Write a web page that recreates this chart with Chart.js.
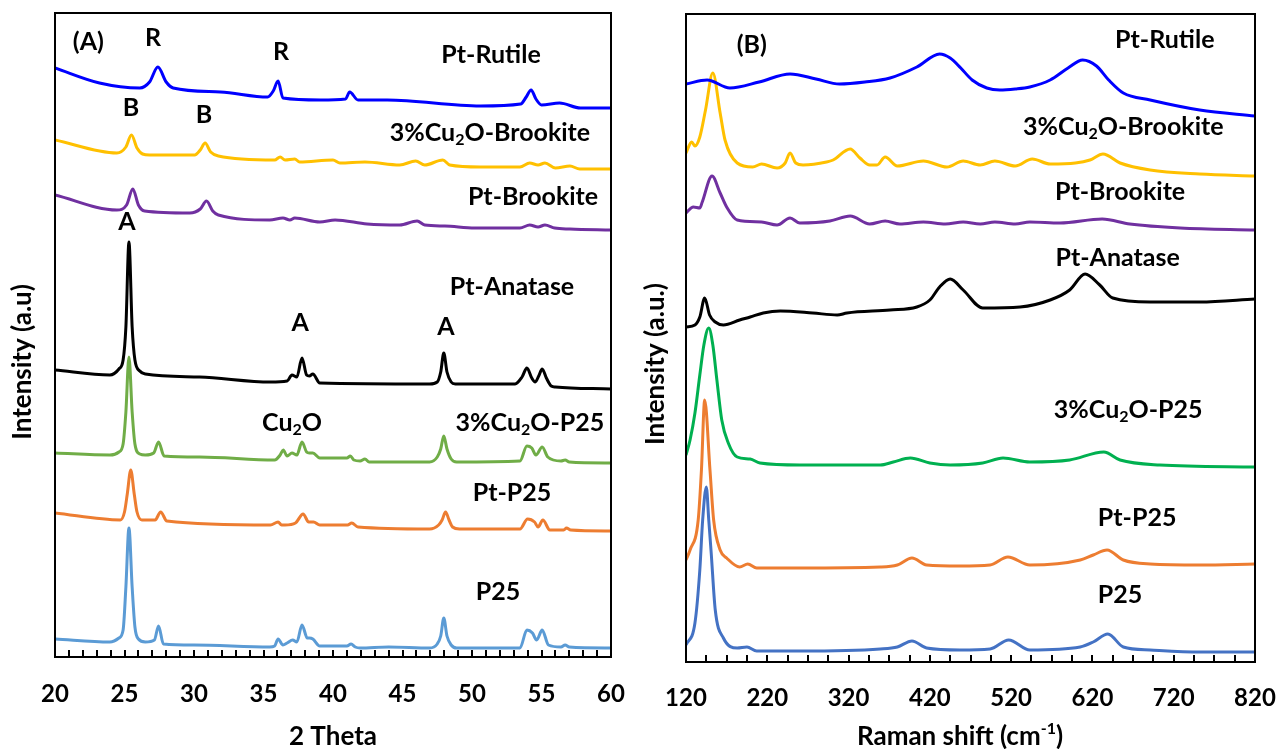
<!DOCTYPE html>
<html>
<head>
<meta charset="utf-8">
<script src="https://cdn.jsdelivr.net/npm/chart.js@4.4.1/dist/chart.umd.min.js"></script>
<style>
  html, body { margin: 0; padding: 0; background: #fff; }
  #wrap { position: relative; width: 1279px; height: 749px; }
  #chartA { position: absolute; left: 0; top: 0; }
  #chartB { position: absolute; left: 640px; top: 0; }
</style>
</head>
<body>
<div id="wrap">
  <canvas id="chartA" width="640" height="749"></canvas>
  <canvas id="chartB" width="639" height="749"></canvas>
</div>
<script>
'use strict';

// ── (A) XRD patterns: 2θ (deg) vs intensity (a.u., stacked) ──────────────────
const rutileT = [20, 23.2, 26.1, 26.8, 27.4, 28.0, 28.5, 31.9, 35.3, 35.7, 36.05, 36.4, 39.1, 40.9, 41.2, 41.8, 43.9, 50.6, 53.5, 53.9, 54.25, 54.6, 55.0, 56.3, 57.8, 60];
const rutileI = [584, 569, 564, 570, 585, 570, 564, 560, 555, 561, 571, 554, 552, 553, 560, 552, 552, 546, 548, 555, 562, 553, 547, 549, 544, 544];

const cuBrookT = [20, 24.45, 25.1, 25.5, 25.9, 26.3, 26.8, 30.05, 30.45, 30.8, 31.2, 31.75, 35.8, 36.2, 36.55, 37.25, 37.6, 40.0, 40.5, 42.3, 44.8, 45.95, 46.6, 47.9, 48.4, 50.6, 53.45, 54.15, 54.75, 55.25, 56.0, 57.05, 57.75, 60];
const cuBrookI = [512, 499, 505, 517, 504, 498, 497, 497, 502, 509, 500, 496, 492, 495, 492, 493, 490, 492, 489, 490, 487, 491, 487, 492, 487, 485, 485, 489, 487, 489, 484, 486, 483, 483];

const ptBrookT = [20, 24.45, 25.15, 25.6, 26.0, 26.45, 29.7, 30.45, 30.9, 31.35, 31.75, 35.45, 36.4, 36.9, 37.25, 39.05, 40.15, 42.45, 44.8, 46.05, 46.6, 48.05, 50.2, 53.45, 54.15, 54.75, 55.25, 55.95, 57.05, 60];
const ptBrookI = [457, 442, 447, 463, 447, 441, 439, 443, 451, 441, 437, 432, 434, 432, 434, 430, 432, 428, 427, 431, 427, 426, 424, 424, 427, 425, 427, 424, 423, 422];

const anataseT = [20, 23.95, 24.6, 24.9, 25.1, 25.32, 25.55, 25.75, 26.1, 26.5, 30.4, 35.5, 36.7, 37.05, 37.4, 37.77, 38.1, 38.3, 38.55, 39.05, 46.95, 47.5, 47.75, 47.97, 48.2, 48.5, 48.8, 53.1, 53.6, 53.95, 54.3, 54.55, 54.8, 55.05, 55.35, 55.7, 56.0, 60];
const anataseI = [282, 277, 283, 292, 325, 410, 325, 292, 281, 278, 275, 270, 271, 277, 275, 294, 277, 276, 278, 269, 268, 270, 280, 299, 280, 270, 268, 268, 275, 284, 274, 270, 276, 283, 274, 266, 265, 263];

const cuP25T = [20, 23.95, 24.6, 24.9, 25.1, 25.32, 25.55, 25.75, 26.1, 26.5, 27.1, 27.45, 27.85, 30.4, 35.8, 36.2, 36.42, 36.7, 37.05, 37.4, 37.77, 38.1, 38.3, 38.55, 39.05, 41.0, 41.25, 41.5, 41.95, 42.3, 42.6, 43.4, 46.95, 47.5, 47.75, 47.97, 48.2, 48.5, 48.9, 53.45, 53.95, 54.3, 54.6, 55.05, 55.45, 56.4, 56.7, 57.0, 60];
const cuP25I = [199, 197, 200, 208, 240, 295, 240, 208, 198, 197, 199, 210, 196, 195, 192, 197, 202, 196, 199, 197, 210, 200, 199, 199, 194, 194, 196, 192, 191, 193, 190, 190, 190, 195, 203, 216, 203, 193, 190, 191, 206, 204, 197, 205, 195, 191, 192, 190, 189];

const ptP25T = [20, 24.7, 25.0, 25.2, 25.45, 25.7, 25.9, 26.25, 27.2, 27.6, 28.05, 35.5, 36.05, 36.3, 36.55, 37.3, 37.85, 38.25, 38.6, 39.05, 41.05, 41.35, 41.8, 46.95, 47.6, 47.85, 48.1, 48.35, 48.6, 49.1, 53.45, 54.0, 54.5, 54.75, 55.1, 55.6, 56.6, 56.8, 57.1, 60];
const ptP25I = [139, 132, 140, 158, 182, 158, 140, 132, 132, 140, 131, 127, 130, 127, 127, 129, 138, 130, 130, 127, 127, 129, 125, 123, 127, 132, 140, 132, 125, 123, 123, 133, 130, 125, 132, 122, 122, 124, 122, 121];

const p25T = [20, 23.95, 24.6, 24.9, 25.1, 25.32, 25.55, 25.75, 26.0, 26.5, 27.15, 27.45, 27.8, 30.0, 35.45, 35.8, 36.05, 36.4, 36.7, 37.1, 37.4, 37.77, 38.15, 38.3, 38.55, 39.05, 41.0, 41.3, 41.6, 41.95, 44.0, 46.95, 47.5, 47.75, 47.97, 48.2, 48.5, 48.9, 53.45, 53.95, 54.35, 54.65, 55.05, 55.5, 56.4, 56.7, 57.0, 60];
const p25I = [13, 10, 14, 22, 65, 124, 65, 25, 13, 10, 12, 26, 8, 7, 5, 6, 13, 7, 9, 12, 10, 27, 14, 14, 13, 6, 6, 8, 5, 4, 5, 4, 8, 16, 34, 16, 7, 4, 4, 22, 19, 12, 22, 7, 5, 7, 5, 4];

// ── (B) Raman spectra: shift (cm-1) vs intensity (a.u., stacked) ─────────────
const rRutileS = [120, 146, 174, 210, 248, 280, 309, 340, 371, 404, 432, 445, 458, 472, 490, 506, 525, 543, 568, 590, 608, 625, 640, 658, 691, 752, 820];
const rRutileI = [568, 572, 564, 570, 578, 573, 568, 570, 574, 585, 598, 594, 584, 572, 564, 562, 563, 565, 572, 584, 592, 586, 572, 559, 552, 542, 536];

const rCuBrookS = [120, 127, 131, 137, 144, 153, 162, 168, 183, 202, 213, 232, 242, 248, 255, 264, 293, 301, 322, 334, 346, 355, 365, 380, 412, 441, 461, 482, 500, 525, 546, 568, 599, 617, 633, 654, 691, 752, 820];
const rCuBrookI = [499, 510, 506, 515, 542, 579, 539, 512, 489, 485, 488, 484, 489, 499, 489, 487, 490, 492, 503, 494, 487, 487, 495, 486, 491, 485, 491, 487, 491, 486, 493, 488, 489, 492, 498, 489, 482, 478, 476];

const rPtBrookS = [120, 129, 137, 140, 152, 162, 170, 183, 213, 232, 248, 260, 297, 322, 346, 365, 383, 412, 439, 461, 482, 500, 525, 543, 580, 632, 666, 728, 820];
const rPtBrookI = [439, 445, 444, 450, 476, 459, 445, 432, 430, 427, 434, 429, 431, 436, 428, 431, 428, 430, 428, 430, 428, 430, 428, 430, 429, 433, 428, 424, 422];

const rAnataseS = [120, 131, 137, 143, 149, 156, 166, 186, 199, 215, 236, 276, 306, 318, 371, 404, 420, 432, 445, 461, 485, 531, 568, 592, 611, 629, 645, 691, 752, 820];
const rAnataseI = [325, 327, 335, 354, 337, 330, 327, 332, 335, 339, 341, 339, 337, 339, 342, 345, 352, 365, 373, 362, 344, 345, 352, 362, 378, 367, 354, 350, 350, 353];

const rCuP25S = [120, 125, 131, 137, 142, 148, 153, 158, 164, 172, 183, 199, 211, 260, 359, 375, 396, 420, 445, 485, 510, 543, 592, 634, 654, 703, 820];
const rCuP25I = [197, 212, 239, 277, 307, 324, 307, 272, 232, 209, 195, 193, 189, 187, 187, 190, 194, 189, 187, 189, 194, 190, 192, 200, 192, 187, 185];

const rPtP25S = [120, 125, 135, 139, 143, 149.5, 154, 162, 170, 186, 196, 207, 260, 359, 380, 398, 416, 457, 494, 516, 543, 605, 621, 638, 658, 691, 752, 820];
const rPtP25I = [92, 102, 132, 182, 252, 182, 132, 102, 94, 85, 88, 84, 84, 85, 87, 94, 87, 86, 87, 95, 87, 92, 97, 102, 92, 88, 87, 88];

const rP25S = [120, 131, 137, 140.5, 145, 148, 151, 156, 166, 183, 195, 207, 260, 359, 380, 398, 416, 457, 494, 517, 543, 605, 621, 639, 658, 691, 752, 820];
const rP25I = [7, 29, 82, 132, 165, 132, 99, 42, 14, 4, 5, 1, 1, 3, 5, 11, 4, 2, 3, 12, 2, 5, 10, 18, 5, 2, 0, 0];

// ── text labels (placed in data coordinates) ─────────────────────────────────
const notesA = [
  ['(A)', 22.4, 610], ['R', 27.05, 614], ['R', 36.26, 600],
  ['B', 25.47, 544], ['B', 30.72, 537], ['A', 25.18, 430],
  ['Pt-Rutile', 51.37, 597], ['3%Cu_{2}O-Brookite', 51.29, 519],
  ['Pt-Brookite', 54.39, 455], ['Pt-Anatase', 52.88, 365],
  ['A', 37.63, 329], ['A', 48.13, 325], ['Cu_{2}O', 37.05, 229],
  ['3%Cu_{2}O-P25', 54.17, 229], ['Pt-P25', 52.88, 159], ['P25', 51.87, 60],
];
const notesB = [
  ['(B)', 201, 607], ['Pt-Rutile', 709, 612], ['3%Cu_{2}O-Brookite', 658, 525],
  ['Pt-Brookite', 654, 460], ['Pt-Anatase', 651, 394], ['3%Cu_{2}O-P25', 664, 242],
  ['Pt-P25', 675, 134], ['P25', 654, 57],
];

// ── helpers ──────────────────────────────────────────────────────────────────
const FONT = 'Lato, "Open Sans", sans-serif';

function pts(xs, ys) {
  return xs.map((x, i) => ({ x, y: ys[i] }));
}

function series(label, xs, ys, color) {
  return { label, data: pts(xs, ys), borderColor: color, backgroundColor: color };
}

// split "3%Cu_{2}O" / "cm^{-1}" into plain, sub and sup pieces
function richParts(str) {
  const raw = str.split(/([_^])\{([^}]*)\}/);
  const parts = [];
  for (let i = 0; i < raw.length; i += 3) {
    if (raw[i]) parts.push({ t: raw[i], k: '' });
    if (raw[i + 2] !== undefined) parts.push({ t: raw[i + 2], k: raw[i + 1] });
  }
  return parts;
}

function drawRich(ctx, str, x, y, size) {
  const parts = richParts(str);
  const big = `bold ${size}px ${FONT}`;
  const small = `bold ${Math.round(size * 0.62)}px ${FONT}`;
  let w = 0;
  parts.forEach(p => {
    ctx.font = p.k ? small : big;
    p.w = ctx.measureText(p.t).width;
    w += p.w;
  });
  let cx = x - w / 2;
  ctx.textAlign = 'left';
  ctx.textBaseline = 'middle';
  parts.forEach(p => {
    ctx.font = p.k ? small : big;
    const dy = p.k === '_' ? size * 0.28 : p.k === '^' ? -size * 0.3 : 0;
    ctx.fillText(p.t, cx, y + dy);
    cx += p.w;
  });
}

// frame, inward tick marks, labels and axis titles
const decorPlugin = {
  id: 'decor',
  afterDatasetsDraw(chart, args, opts) {
    const { ctx, chartArea: a, scales: { x, y } } = chart;
    ctx.save();
    ctx.strokeStyle = '#000';
    ctx.lineWidth = 2;
    ctx.strokeRect(a.left, a.top, a.right - a.left, a.bottom - a.top);

    ctx.beginPath();
    x.ticks.forEach(t => {
      const px = Math.round(x.getPixelForValue(t.value));
      ctx.moveTo(px, a.bottom);
      ctx.lineTo(px, a.bottom - 7);
    });
    ctx.stroke();

    ctx.fillStyle = '#000';
    opts.notes.forEach(([text, vx, vy]) => {
      drawRich(ctx, text, x.getPixelForValue(vx), y.getPixelForValue(vy), opts.noteSize);
    });

    drawRich(ctx, opts.xTitle, opts.xTitleAt[0], opts.xTitleAt[1], opts.titleSize);
    ctx.translate(opts.yTitleAt[0], opts.yTitleAt[1]);
    ctx.rotate(-Math.PI / 2);
    drawRich(ctx, opts.yTitle, 0, 0, opts.titleSize);
    ctx.restore();
  },
};

function makeChart(canvasId, datasets, cfg) {
  const canvas = document.getElementById(canvasId);
  return new Chart(canvas, {
    type: 'line',
    data: { datasets },
    options: {
      responsive: false,
      animation: false,
      devicePixelRatio: 1,
      layout: { padding: { left: cfg.padLeft, right: cfg.padRight, top: cfg.padTop, bottom: 0 } },
      elements: {
        point: { radius: 0 },
        line: { borderWidth: 3, cubicInterpolationMode: 'monotone' },
      },
      plugins: {
        legend: { display: false },
        tooltip: { enabled: false },
        decor: cfg.decor,
      },
      scales: {
        x: {
          type: 'linear',
          min: cfg.xMin,
          max: cfg.xMax,
          afterFit: s => {
            s.height = cfg.axisHeight;
            s.paddingLeft = 0;
            s.paddingRight = 0;
          },
          grid: { display: false, drawTicks: false },
          border: { display: false },
          ticks: {
            stepSize: cfg.step,
            autoSkip: false,
            maxRotation: 0,
            padding: cfg.tickPad,
            color: '#000',
            font: { family: FONT, size: 24, weight: 'bold' },
            callback: v => ((v - cfg.xMin) % cfg.labelEvery === 0 ? v : ''),
          },
        },
        y: { display: false, min: cfg.yMin, max: cfg.yMax },
      },
    },
    plugins: [decorPlugin],
  });
}

makeChart('chartA', [
  series('Pt-Rutile', rutileT, rutileI, '#0000FF'),
  series('3%Cu2O-Brookite', cuBrookT, cuBrookI, '#FFC000'),
  series('Pt-Brookite', ptBrookT, ptBrookI, '#7030A0'),
  series('Pt-Anatase', anataseT, anataseI, '#000000'),
  series('3%Cu2O-P25', cuP25T, cuP25I, '#70AD47'),
  series('Pt-P25', ptP25T, ptP25I, '#ED7D31'),
  series('P25', p25T, p25I, '#5B9BD5'),
], {
  padLeft: 55, padRight: 29, padTop: 13, axisHeight: 92, tickPad: 23,
  xMin: 20, xMax: 60, step: 1, labelEvery: 5, yMin: -5, yMax: 639,
  decor: {
    notes: notesA, noteSize: 25, titleSize: 26,
    xTitle: '2 Theta', xTitleAt: [333, 737],
    yTitle: 'Intensity (a.u)', yTitleAt: [23, 362],
  },
});

makeChart('chartB', [
  series('Pt-Rutile', rRutileS, rRutileI, '#0000FF'),
  series('3%Cu2O-Brookite', rCuBrookS, rCuBrookI, '#FFC000'),
  series('Pt-Brookite', rPtBrookS, rPtBrookI, '#7030A0'),
  series('Pt-Anatase', rAnataseS, rAnataseI, '#000000'),
  series('3%Cu2O-P25', rCuP25S, rCuP25I, '#00B050'),
  series('Pt-P25', rPtP25S, rPtP25I, '#ED7D31'),
  series('P25', rP25S, rP25I, '#4472C4'),
], {
  padLeft: 46, padRight: 24, padTop: 14, axisHeight: 87, tickPad: 22,
  xMin: 120, xMax: 820, step: 25, labelEvery: 100, yMin: -10, yMax: 638,
  decor: {
    notes: notesB, noteSize: 25, titleSize: 26,
    xTitle: 'Raman shift (cm^{-1})', xTitleAt: [320, 737],
    yTitle: 'Intensity (a.u.)', yTitleAt: [16, 364],
  },
});
</script>
</body>
</html>
